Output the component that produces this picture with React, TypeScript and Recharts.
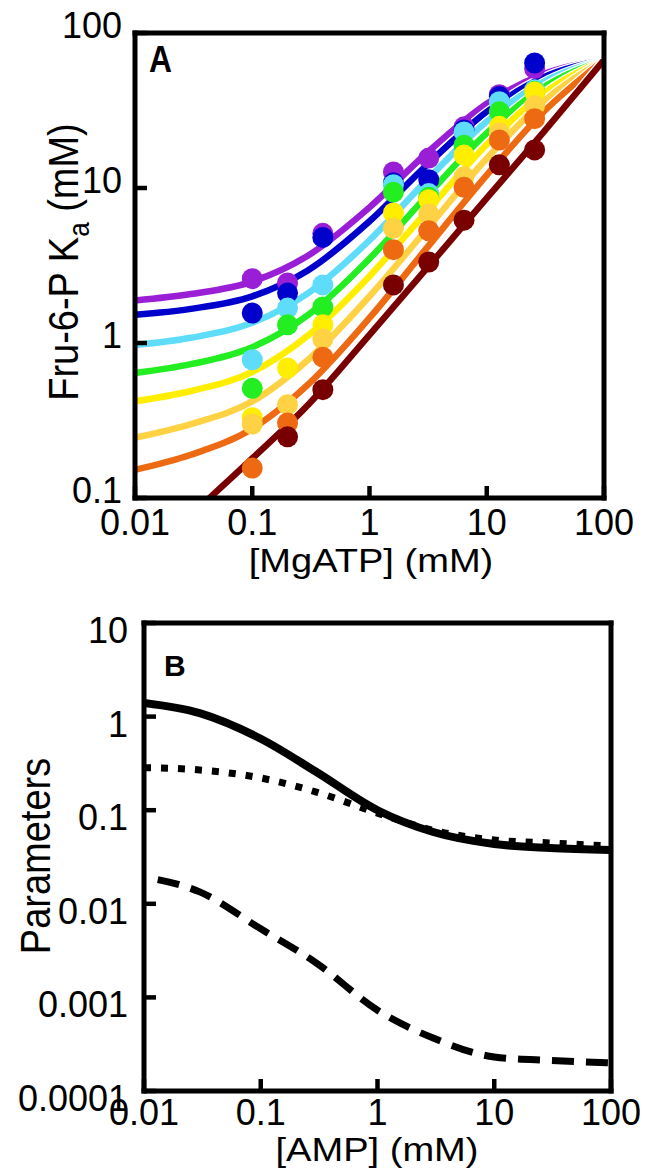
import React from 'react';
import { ComposedChart, Line, Scatter, XAxis, YAxis } from 'recharts';

// ---- panel A: Fru-6-P Ka vs [MgATP], one series per AMP level ----
const mgatp = [0.1, 0.2, 0.4, 1.6, 3.2, 6.4, 12.8, 25.6];
const kaPurple = [2.6, 2.44, 5.1, 12.7, 15.6, 24.8, 40, 59];
const kaBlue = [1.56, 2.1, 4.8, 10.8, 11.3, 23.7, 39, 64];
const kaCyan = [0.78, 1.68, 2.37, 10.5, 9.2, 23.0, 36, 43];
const kaGreen = [0.51, 1.31, 1.71, 9.4, 8.7, 18.9, 31, 42];
const kaYellow = [0.33, 0.69, 1.31, 6.9, 8.4, 16.3, 25, 41.6];
const kaLtOrange = [0.3, 0.4, 1.06, 5.5, 6.8, 11.8, 22.6, 34];
const kaOrange = [0.156, 0.305, 0.81, 4.0, 5.3, 10.1, 20.4, 28];
const kaMaroon = [null, 0.248, 0.5, 2.37, 3.33, 6.2, 14.1, 17.6];

const fitX = [0.01, 0.03, 0.1, 0.3, 1, 3, 10, 30, 100];
const fitPurple = [1.88, 2.07, 2.49, 3.67, 7.5, 16.5, 35, 54, 67];
const fitBlue = [1.52, 1.66, 2.0, 2.95, 6.1, 13.8, 31, 51.5, 67];
const fitCyan = [0.97, 1.08, 1.35, 2.1, 4.6, 11.0, 26.9, 48, 67];
const fitGreen = [0.64, 0.73, 0.94, 1.52, 3.5, 8.7, 22.6, 44.3, 67];
const fitYellow = [0.42, 0.49, 0.65, 1.12, 2.7, 6.9, 19.1, 40.5, 67];
const fitLtOrange = [0.245, 0.3, 0.42, 0.78, 2.0, 5.3, 15.5, 35.9, 67];
const fitOrange = [0.152, 0.19, 0.28, 0.54, 1.45, 4.0, 12.1, 30.6, 67];
const fitMaroon = [0.034, 0.077, 0.18, 0.4, 1.13, 2.96, 8.6, 22.6, 67];

const concTicks = [0.01, 0.1, 1, 10, 100];
const kaTicks = [0.1, 1, 10, 100];

// ---- panel B: fitted parameters vs [AMP] ----
const amp = [0.01, 0.03, 0.1, 0.3, 1, 3, 10, 30, 100];
const paramSolid = [1.4, 1.09, 0.58, 0.256, 0.1, 0.0585, 0.0435, 0.0395, 0.0376];
const paramDotted = [0.285, 0.269, 0.221, 0.156, 0.093, 0.061, 0.048, 0.0447, 0.0414];
const paramDashed = [0.0193, 0.0134, 0.0054, 0.00233, 0.00073, 0.000368, 0.000231, 0.000212, 0.0002];
const paramTicks = [0.0001, 0.001, 0.01, 0.1, 1, 10];

const FONT = '"Liberation Sans", Arial, Helvetica, sans-serif';

const rows = (xs: number[], ys: (number | null)[]) =>
  xs.map((x, i) => ({ x, y: ys[i] })).filter((r) => r.y != null);

const seriesA = [
  { color: '#9a1ed6', pts: kaPurple, fit: fitPurple },
  { color: '#0000cc', pts: kaBlue, fit: fitBlue },
  { color: '#5fdcfa', pts: kaCyan, fit: fitCyan },
  { color: '#22ee22', pts: kaGreen, fit: fitGreen },
  { color: '#ffee00', pts: kaYellow, fit: fitYellow },
  { color: '#ffd244', pts: kaLtOrange, fit: fitLtOrange },
  { color: '#ee6a12', pts: kaOrange, fit: fitOrange },
  { color: '#780000', pts: kaMaroon, fit: fitMaroon },
];

const frame = { stroke: '#000', strokeWidth: 5, strokeLinecap: 'square' as const };
const tickMark = { stroke: '#000', strokeWidth: 4.5 };

function bottomTick(drop: number) {
  return (p: any) => (
    <text x={p.x} y={p.y + drop} textAnchor="middle" fontFamily={FONT} fontSize={36} fill="#000">
      {String(p.payload.value)}
    </text>
  );
}

function leftTick(gap: number, shift: number) {
  return (p: any) => (
    <text x={p.x - gap} y={p.y + shift} textAnchor="end" fontFamily={FONT} fontSize={36} fill="#000">
      {String(p.payload.value)}
    </text>
  );
}

function Frame({ yTicks, yDomain, xTitle, yTitle, panel, bottomDrop, leftGap, leftShift }: any) {
  return [
    <XAxis
      key="xb"
      xAxisId={0}
      dataKey="x"
      type="number"
      scale="log"
      domain={[0.01, 100]}
      allowDataOverflow
      ticks={concTicks}
      interval={0}
      height={60}
      tickSize={-12}
      tickMargin={12}
      axisLine={frame}
      tickLine={tickMark}
      tick={bottomTick(bottomDrop)}
      label={xTitle}
    />,
    <XAxis
      key="xt"
      xAxisId="top"
      orientation="top"
      type="number"
      scale="log"
      domain={[0.01, 100]}
      allowDataOverflow
      ticks={concTicks}
      interval={0}
      height={10}
      tickSize={-12}
      axisLine={frame}
      tickLine={tickMark}
      tick={false}
      label={panel}
    />,
    <YAxis
      key="yl"
      yAxisId={0}
      dataKey="y"
      type="number"
      scale="log"
      domain={yDomain}
      allowDataOverflow
      ticks={yTicks}
      interval={0}
      width={100}
      tickSize={-12}
      tickMargin={12}
      axisLine={frame}
      tickLine={tickMark}
      tick={leftTick(leftGap, leftShift)}
      label={yTitle}
    />,
    <YAxis
      key="yr"
      yAxisId="right"
      orientation="right"
      type="number"
      scale="log"
      domain={yDomain}
      allowDataOverflow
      ticks={yTicks}
      interval={0}
      width={10}
      tickSize={-12}
      axisLine={frame}
      tickLine={tickMark}
      tick={false}
    />,
  ];
}

const titleA_x = () => (
  <text transform="translate(371,572) scale(1.12,1)" textAnchor="middle" fontFamily={FONT} fontSize={34} fill="#000">
    [MgATP] (mM)
  </text>
);
const titleA_y = () => (
  <text transform="translate(78,262) scale(1.12,1) rotate(-90)" textAnchor="middle" fontFamily={FONT} fontSize={38} fill="#000">
    Fru-6-P K
    <tspan dy={10} fontSize={26}>a</tspan>
    <tspan dy={-10}> (mM)</tspan>
  </text>
);
const labelA = () => (
  <text transform="translate(149,72) scale(0.86,1)" fontFamily={FONT} fontWeight="bold" fontSize={37} fill="#000">
    A
  </text>
);

const titleB_x = () => (
  <text transform="translate(377,561) scale(1.12,1)" textAnchor="middle" fontFamily={FONT} fontSize={34} fill="#000">
    [AMP] (mM)
  </text>
);
const titleB_y = () => (
  <text transform="translate(50,256) scale(1.1,1) rotate(-90)" textAnchor="middle" fontFamily={FONT} fontSize={38} fill="#000">
    Parameters
  </text>
);
const labelB = () => (
  <text x={164} y={76} fontFamily={FONT} fontWeight="bold" fontSize={30} fill="#000">
    B
  </text>
);

function PanelA() {
  return (
    <ComposedChart width={645} height={600} margin={{ top: 23, right: 31, bottom: 42, left: 35 }}>
      {Frame({
        yTicks: kaTicks,
        yDomain: [0.1, 100],
        xTitle: titleA_x,
        yTitle: titleA_y,
        panel: labelA,
        bottomDrop: 37,
        leftGap: 13,
        leftShift: 5,
      })}
      {seriesA.flatMap((s, i) => [
        <Line
          key={`w${i}`}
          data={rows(fitX, s.fit)}
          dataKey="y"
          type="monotone"
          stroke="#fff"
          strokeWidth={9}
          dot={false}
          activeDot={false}
          isAnimationActive={false}
        />,
        <Line
          key={`c${i}`}
          data={rows(fitX, s.fit)}
          dataKey="y"
          type="monotone"
          stroke={s.color}
          strokeWidth={6.5}
          dot={false}
          activeDot={false}
          isAnimationActive={false}
        />,
      ])}
      {seriesA.map((s, i) => (
        <Scatter
          key={`p${i}`}
          data={rows(mgatp, s.pts)}
          dataKey="y"
          fill={s.color}
          isAnimationActive={false}
          shape={(p: any) => <circle cx={p.cx} cy={p.cy} r={10.5} fill={s.color} />}
        />
      ))}
    </ComposedChart>
  );
}

function PanelB() {
  return (
    <ComposedChart width={645} height={571} margin={{ top: 13, right: 24, bottom: 20, left: 44 }}>
      {Frame({
        yTicks: paramTicks,
        yDomain: [0.0001, 10],
        xTitle: titleB_x,
        yTitle: titleB_y,
        panel: labelB,
        bottomDrop: 34,
        leftGap: 16,
        leftShift: 20,
      })}
      <Line data={rows(amp, paramDotted)} dataKey="y" type="monotone" stroke="#000" strokeWidth={7}
        strokeDasharray="7 10" dot={false} activeDot={false} isAnimationActive={false} />
      <Line data={rows(amp, paramSolid)} dataKey="y" type="monotone" stroke="#000" strokeWidth={8}
        dot={false} activeDot={false} isAnimationActive={false} />
      <Line data={rows(amp, paramDashed)} dataKey="y" type="monotone" stroke="#000" strokeWidth={7}
        strokeDasharray="0 14 22 12 22 12 22 12 22 12 22 12 22 12 22 12 22 12 22 12 22 12 22 12 22 12 22 12 22 12 22 40"
        dot={false} activeDot={false} isAnimationActive={false} />
    </ComposedChart>
  );
}

export default function App() {
  return (
    <div style={{ position: 'absolute', left: 0, top: 0, width: 645, height: 1171, background: '#fff' }}>
      <div style={{ position: 'absolute', left: 0, top: 0 }}>
        <PanelA />
      </div>
      <div style={{ position: 'absolute', left: 0, top: 600 }}>
        <PanelB />
      </div>
    </div>
  );
}
